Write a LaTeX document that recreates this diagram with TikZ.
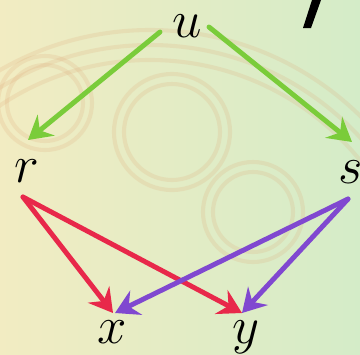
\documentclass[tikz,border=0pt]{standalone}
\usepackage{fix-cm}
\usetikzlibrary{arrows.meta, calc}
\definecolor{edgegreen}{RGB}{122,204,58}
\definecolor{edgered}{RGB}{232,40,74}
\definecolor{edgepurple}{RGB}{128,72,208}
\definecolor{bgyellow}{RGB}{242,236,194}
\definecolor{bgmid}{RGB}{236,242,190}
\definecolor{bggreen}{RGB}{212,236,200}
\definecolor{faintorange}{RGB}{222,170,120}

\begin{document}
\begin{tikzpicture}[x=0.03cm, y=-0.03cm,
    var/.style={anchor=base, inner sep=0pt, font=\fontsize{45}{50}\selectfont},
    edge/.style={line width=4.2pt, line cap=round,
      -{Stealth[length=20pt, width=23pt, inset=7pt]}}]
    % background
    \shade[left color=bgyellow, middle color=bgmid, right color=bggreen] (0,0) rectangle (360,354);
    \useasboundingbox (0,0) rectangle (360,354);
    \begin{scope}[faintorange, opacity=0.2, line width=3.5pt]
      \foreach \rad in {58,48} \draw (172,132) circle (\rad);
      \foreach \rad in {47,38} \draw (45,103) circle (\rad);
      \foreach \rad in {50,40} \draw (253,212) circle (\rad);
      \foreach \rad in {300,285,270} \draw (150,330) circle (\rad);
    \end{scope}
    \fill (303,28) -- (311,28) -- (321,0) -- (312,0) -- cycle;

    % variables
    \node[var] (u) at (187,37) {$u$};
    \node[var] (r) at (27,182) {$r$};
    \node[var] (s) at (351,183) {$s$};
    \node[var] (x) at (112,343) {$x$};
    \node[var] (y) at (246,343) {$y$};

    % edges
    \draw[edge, edgegreen] ([shift={(-27,-5)}]u.base) -- ([shift={(1,-42)}]r.base);
    \draw[edge, edgegreen] ([shift={(22,-10)}]u.base) -- ([shift={(1,-41)}]s.base);
    \foreach \to/\dx in {x/1, y/-4}
      \draw[edge, edgered] ([shift={(-4,15)}]r.base) -- ([shift={(\dx,-30)}]\to.base);
    \foreach \to/\dx in {x/3, y/-4}
      \draw[edge, edgepurple] ([shift={(-3,16)}]s.base) -- ([shift={(\dx,-30)}]\to.base);
  \end{tikzpicture}
\end{document}
